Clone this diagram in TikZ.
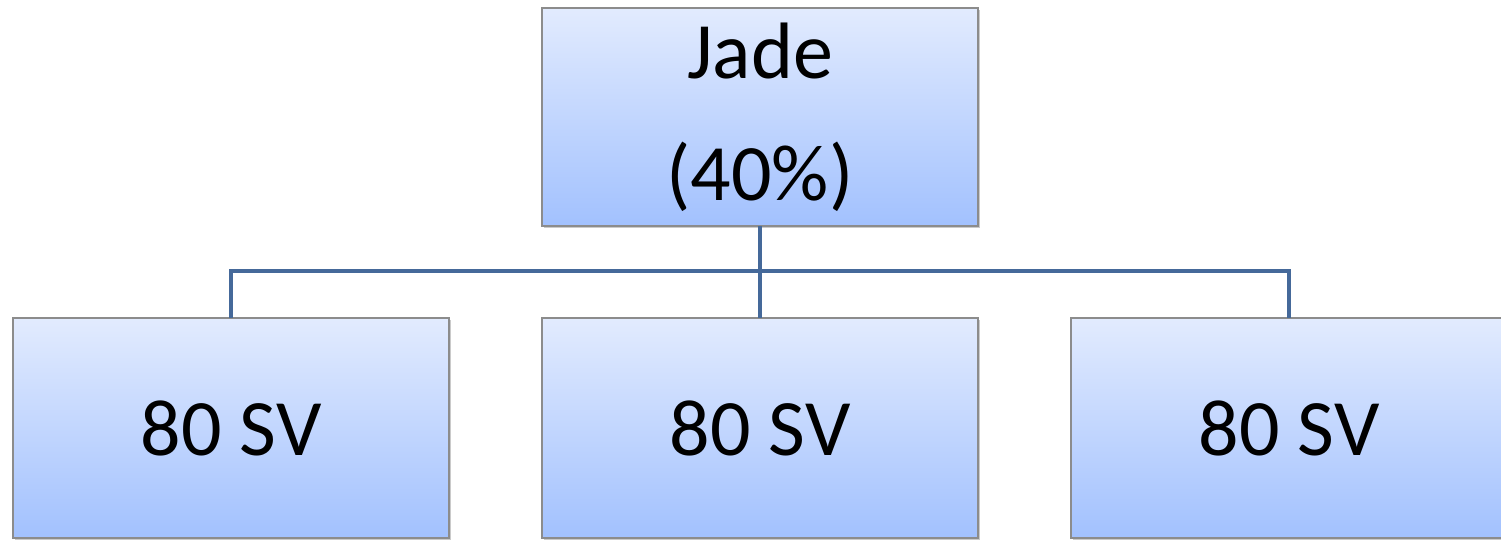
\documentclass[tikz,border=0pt]{standalone}
\usepackage{fontspec}
\setmainfont{Carlito}
\usetikzlibrary{shadows}
\tikzset{
  orgbox/.style={draw=black!45, line width=1.2pt, top color=boxtop, bottom color=boxbot,
    minimum width=436pt, inner sep=0pt, outer sep=0pt, anchor=north west,
    drop shadow={shadow xshift=2pt, shadow yshift=-2pt, opacity=0.35, fill=black!60},
    font=\fontsize{80}{122}\selectfont, align=center},
  link/.style={draw=linkc, line width=4.5pt}
}
\definecolor{boxtop}{HTML}{E2EBFE}
\definecolor{boxbot}{HTML}{A2C1FE}
\definecolor{linkc}{HTML}{45699A}
\begin{document}
\begin{tikzpicture}[x=1pt,y=-1pt]
\useasboundingbox (0,0) rectangle (1501,540);
\clip (0,0) rectangle (1501,540);
\node[orgbox, minimum height=218pt] (top) at (542,8) {Jade\\(40\%)};
\node[orgbox, minimum height=220pt] (b1) at (13,318) {80 SV};
\node[orgbox, minimum height=220pt] (b2) at (542,318) {80 SV};
\node[orgbox, minimum height=220pt] (b3) at (1071,318) {80 SV};
\coordinate (bus) at (top.south |- 0,271);
\draw[link] (top.south) -- (bus);
\draw[link] (b1.north) |- (bus) -| (b3.north);
\draw[link] (bus) -- (b2.north);
\end{tikzpicture}
\end{document}
